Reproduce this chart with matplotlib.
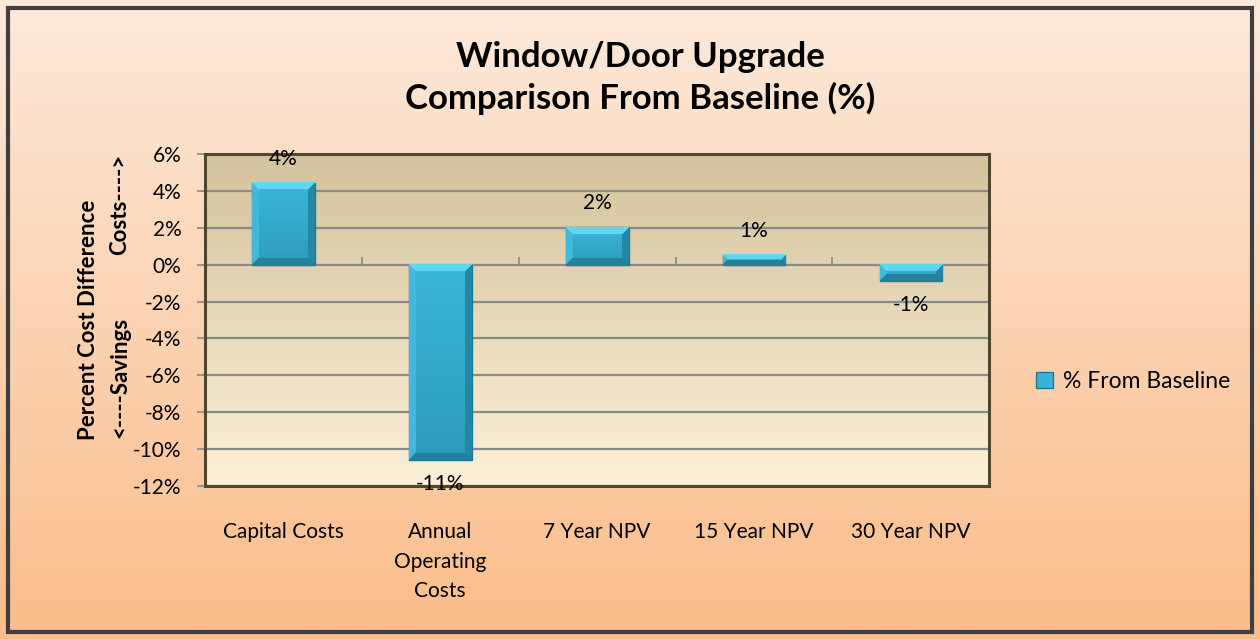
import numpy as np
import matplotlib.pyplot as plt
from matplotlib.patches import Rectangle, Patch
from matplotlib.colors import to_rgb

plt.rcParams['font.family'] = ['Lato', 'DejaVu Sans']

categories = ['Capital Costs', 'Annual\nOperating\nCosts', '7 Year NPV', '15 Year NPV', '30 Year NPV']
pct_from_baseline = [4.45, -10.6, 2.05, 0.55, -0.9]
yticks = [6, 4, 2, 0, -2, -4, -6, -8, -10, -12]

fig = plt.figure(figsize=(12.6, 6.39), dpi=100)

# chart-area background gradient
bg = fig.add_axes([0, 0, 1, 1], zorder=-10)
top_c, bot_c = np.array(to_rgb('#fdeadb')), np.array(to_rgb('#fbbd8a'))
t = np.linspace(0, 1, 256)[:, None, None]
bg.imshow(top_c * (1 - t) + bot_c * t, aspect='auto', extent=(0, 1, 0, 1))
bg.set_axis_off()
fig.patches.append(Rectangle((0.006, 0.011), 0.988, 0.977, transform=fig.transFigure,
                             fill=False, edgecolor='#3f3f3f', lw=3))

ax = fig.add_axes([0.1627, 0.2395, 0.6225, 0.5195])
ax.set_xlim(-0.5, len(categories) - 0.5)
ax.set_ylim(-12, 6)
ax.set_facecolor('none')

# plot-area gradient
pa_top, pa_bot = np.array(to_rgb('#d3c39d')), np.array(to_rgb('#fcf0d8'))
ax.imshow(pa_top * (1 - t) + pa_bot * t, aspect='auto', extent=(0, 1, 0, 1),
          transform=ax.transAxes, zorder=0)

ax.set_yticks(yticks)
ax.set_yticklabels([f'{v}%' for v in yticks])
ax.yaxis.grid(True, color='#8a8a8a', lw=1.6, zorder=1)
ax.set_axisbelow(True)
ax.tick_params(axis='y', length=6, width=1.2, color='#8a8a8a', labelsize=15, pad=11)
ax.set_xticks(range(len(categories)))
ax.set_xticklabels(categories, fontsize=15, linespacing=1.6, va='top')
ax.tick_params(axis='x', length=0, pad=26)
for s in ax.spines.values():
    s.set_color('#4d4731')
    s.set_linewidth(2.2)
    s.set_zorder(5)

# category axis at zero with boundary tick marks
zero_frac = (0 - (-12)) / 18
sec = ax.secondary_xaxis(zero_frac)
sec.set_xticks(np.arange(len(categories) + 1) - 0.5)
sec.set_xticklabels([])
sec.tick_params(length=6, width=1.2, color='#8a8a8a', direction='out')
sec.spines['bottom'].set_visible(False)
sec.spines['top'].set_visible(False)

bars = ax.bar(range(len(categories)), pct_from_baseline, width=0.4,
              color='#38b2d6', edgecolor='#1f7a94', lw=1, zorder=3)

# bevel shading for each bar
def bevel_image(w, h, bev=7):
    h = max(h, 2); w = max(w, 2)
    b = min(bev, h // 2, w // 2)
    ii, jj = np.mgrid[0:h, 0:w]
    top_d, bot_d, left_d, right_d = ii, h - 1 - ii, jj, w - 1 - jj
    d = np.minimum(np.minimum(top_d, bot_d), np.minimum(left_d, right_d))
    base = np.array(to_rgb('#3bb6da'))
    dark = np.array(to_rgb('#2d9cbd'))
    fy = (ii / (h - 1))[..., None]
    img = base * (1 - fy) + dark * fy
    sel_t = (d == top_d) & (d < b)
    sel_b = (d == bot_d) & (d < b) & ~sel_t
    sel_l = (d == left_d) & (d < b) & ~sel_t & ~sel_b
    sel_r = (d == right_d) & (d < b) & ~sel_t & ~sel_b & ~sel_l
    img[sel_t] = to_rgb('#5fd6f0')
    img[sel_b] = to_rgb('#25809c')
    img[sel_l] = to_rgb('#3fb9dc')
    img[sel_r] = to_rgb('#2687a4')
    return img

for rect in bars:
    x0, y0 = rect.get_x(), rect.get_y()
    x1, y1 = x0 + rect.get_width(), y0 + rect.get_height()
    (px0, py0), (px1, py1) = ax.transData.transform([(x0, min(y0, y1)), (x1, max(y0, y1))])
    img = bevel_image(int(round(px1 - px0)), int(round(py1 - py0)))
    ax.imshow(img, extent=(x0, x1, min(y0, y1), max(y0, y1)), aspect='auto',
              zorder=3.5, interpolation='bilinear')
ax.set_xlim(-0.5, len(categories) - 0.5)
ax.set_ylim(-12, 6)

ax.bar_label(bars, labels=[f'{v:.0f}%' for v in pct_from_baseline], padding=10,
             fontsize=15, zorder=6)

fig.text(0.508, 0.878, 'Window/Door Upgrade\nComparison From Baseline (%)',
         ha='center', va='center', fontsize=25, fontweight='bold', linespacing=1.3)

fig.text(0.070, 0.499, 'Percent Cost Difference', rotation=90, ha='center', va='center',
         fontsize=16, fontweight='bold')
fig.text(0.095, 0.41, '<----Savings', rotation=90, ha='center', va='center',
         fontsize=16, fontweight='bold')
fig.text(0.095, 0.68, 'Costs---->', rotation=90, ha='center', va='center',
         fontsize=16, fontweight='bold')

handle = Patch(facecolor='#38b2d6', edgecolor='#1f7a94')
fig.legend([handle], ['% From Baseline'], loc='center left', bbox_to_anchor=(0.806, 0.403),
           frameon=False, fontsize=16.5, handlelength=0.75, handleheight=0.75, handletextpad=0.4)

fig.savefig('out.png', dpi=100)
